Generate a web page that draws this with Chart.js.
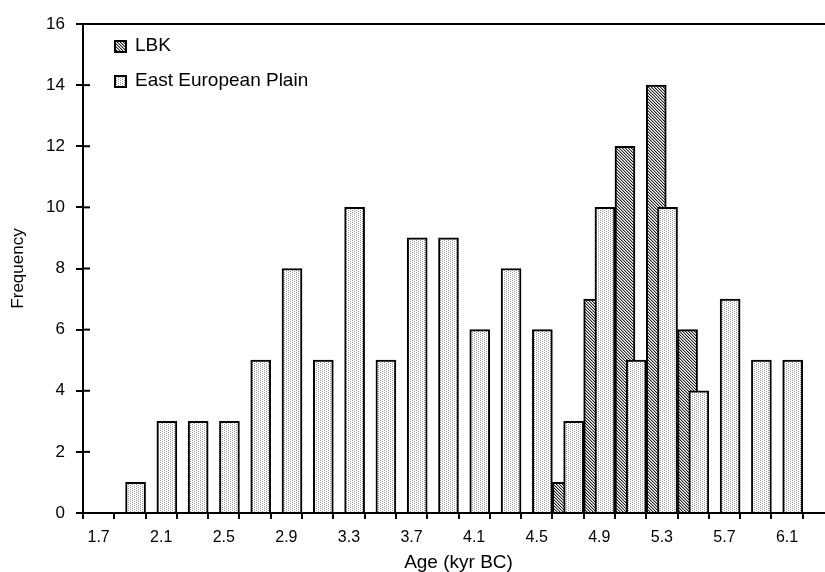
<!DOCTYPE html>
<html>
<head>
<meta charset="utf-8">
<script src="https://cdn.jsdelivr.net/npm/chart.js@4.4.1/dist/chart.umd.min.js"></script>
<style>
  html, body { margin: 0; padding: 0; background: #fff; overflow: hidden; }
  #wrap { width: 825px; height: 572px; overflow: hidden; }
</style>
</head>
<body>
<div id="wrap"><canvas id="chartAge" width="840" height="572"></canvas></div>
<script>
// bins of 0.2 kyr, every other one labelled
const ages = ['1.7', '1.9', '2.1', '2.3', '2.5', '2.7', '2.9', '3.1', '3.3', '3.5', '3.7', '3.9',
  '4.1', '4.3', '4.5', '4.7', '4.9', '5.1', '5.3', '5.5', '5.7', '5.9', '6.1', '6.3']
const lbk = [0, 0, 0, 0, 0, 0, 0, 0, 0, 0, 0, 0, 0, 0, 0, 1, 7, 12, 14, 6, 0, 0, 0, 0]
const eastEuro = [0, 1, 3, 3, 3, 5, 8, 5, 10, 5, 9, 9, 6, 8, 6, 3, 10, 5, 10, 4, 7, 5, 5, 0]
const yMax = 16
const yStep = 2

const font = '"Liberation Sans", Arial, sans-serif'

function tile (size, draw) {
  const c = document.createElement('canvas')
  c.width = size
  c.height = size
  const g = c.getContext('2d')
  g.fillStyle = '#fff'
  g.fillRect(0, 0, size, size)
  draw(g)
  return g.createPattern(c, 'repeat')
}

const dots = tile(4, (g) => {
  g.fillStyle = '#999'
  g.fillRect(0, 0, 1, 1)
  g.fillRect(2, 1, 1, 1)
  g.fillRect(0, 2, 1, 1)
  g.fillRect(2, 3, 1, 1)
})

const hatch = tile(3, (g) => {
  for (let i = 0; i < 3; i++) {
    g.fillStyle = '#222'
    g.fillRect(i, i, 1, 1)
    g.fillStyle = '#aaa'
    g.fillRect((i + 1) % 3, i, 1, 1)
  }
})

// LBK hugs the left edge of each bin, East European Plain the right edge (overlapping)
const toBars = (vals, shift) => vals.map((v, i) => ({ x: i + shift, y: v }))

// legend stacked in the top left corner of the plot
const cornerLegend = {
  id: 'cornerLegend',
  afterDraw (chart) {
    const { ctx, chartArea } = chart
    ctx.save()
    ctx.font = '19px ' + font
    ctx.textBaseline = 'middle'
    chart.data.datasets.forEach((ds, i) => {
      const x = chartArea.left + 32
      const y = chartArea.top + 22 + i * 35
      ctx.fillStyle = ds.backgroundColor
      ctx.fillRect(x, y - 5, 11, 11)
      ctx.strokeStyle = '#000'
      ctx.lineWidth = 2
      ctx.strokeRect(x, y - 5, 11, 11)
      ctx.fillStyle = '#000'
      ctx.fillText(ds.label, x + 20, y)
    })
    ctx.restore()
  }
}

// y ticks cross the axis line
const innerTicks = {
  id: 'innerTicks',
  afterDraw (chart) {
    const { ctx } = chart
    const y = chart.scales.y
    ctx.save()
    ctx.strokeStyle = '#000'
    ctx.lineWidth = 2
    y.ticks.forEach((t) => {
      if (t.value === 0 || t.value === yMax) return
      const py = y.getPixelForValue(t.value)
      ctx.beginPath()
      ctx.moveTo(y.right, py)
      ctx.lineTo(y.right + 7, py)
      ctx.stroke()
    })
    ctx.restore()
  }
}

const ctx = document.getElementById('chartAge').getContext('2d')

const chartAge = new Chart(ctx, {
  type: 'bar',
  data: {
    datasets: [
      {
        label: 'LBK',
        data: toBars(lbk, -0.18),
        xAxisID: 'bins',
        backgroundColor: hatch,
        borderColor: '#000',
        borderWidth: 2,
        order: 1
      },
      {
        label: 'East European Plain',
        data: toBars(eastEuro, 0.18),
        xAxisID: 'bins',
        backgroundColor: dots,
        borderColor: '#000',
        borderWidth: 2,
        order: 0
      }
    ]
  },
  options: {
    responsive: false,
    animation: false,
    devicePixelRatio: 1,
    grouped: false,
    barThickness: 20,
    layout: { padding: { left: 0, right: 6, top: 24, bottom: 0 } },
    scales: {
      bins: {
        type: 'linear',
        position: 'bottom',
        display: false,
        offset: false,
        min: -0.5,
        max: ages.length - 0.5
      },
      x: {
        type: 'category',
        position: 'bottom',
        labels: ages,
        offset: true,
        afterFit: (s) => { s.height = 59 },
        grid: { drawOnChartArea: false, tickLength: 6, tickColor: '#000', lineWidth: 2, offset: true },
        border: { color: '#000', width: 2 },
        ticks: {
          autoSkip: false,
          maxRotation: 0,
          padding: 9,
          color: '#000',
          font: { family: font, size: 16 },
          callback: (v, i) => (i % 2 === 0 ? ages[i] : '')
        },
        title: {
          display: true,
          text: 'Age (kyr BC)',
          color: '#000',
          font: { family: font, size: 19, lineHeight: 1 },
          padding: { top: 0, bottom: 0 }
        }
      },
      y: {
        min: 0,
        max: yMax,
        afterFit: (s) => { s.width = 83 },
        grid: {
          color: (c) => (c.tick.value === yMax ? '#000' : 'rgba(0,0,0,0)'),
          tickColor: '#000',
          tickLength: 7,
          lineWidth: 2
        },
        border: { color: '#000', width: 2 },
        ticks: {
          stepSize: yStep,
          padding: 11,
          color: '#000',
          font: { family: font, size: 17 }
        },
        title: {
          display: true,
          text: 'Frequency',
          color: '#000',
          font: { family: font, size: 17, lineHeight: 1 },
          padding: { top: 10, bottom: 0 }
        }
      }
    },
    plugins: {
      legend: { display: false },
      tooltip: { enabled: false }
    }
  },
  plugins: [cornerLegend, innerTicks]
})
</script>
</body>
</html>
